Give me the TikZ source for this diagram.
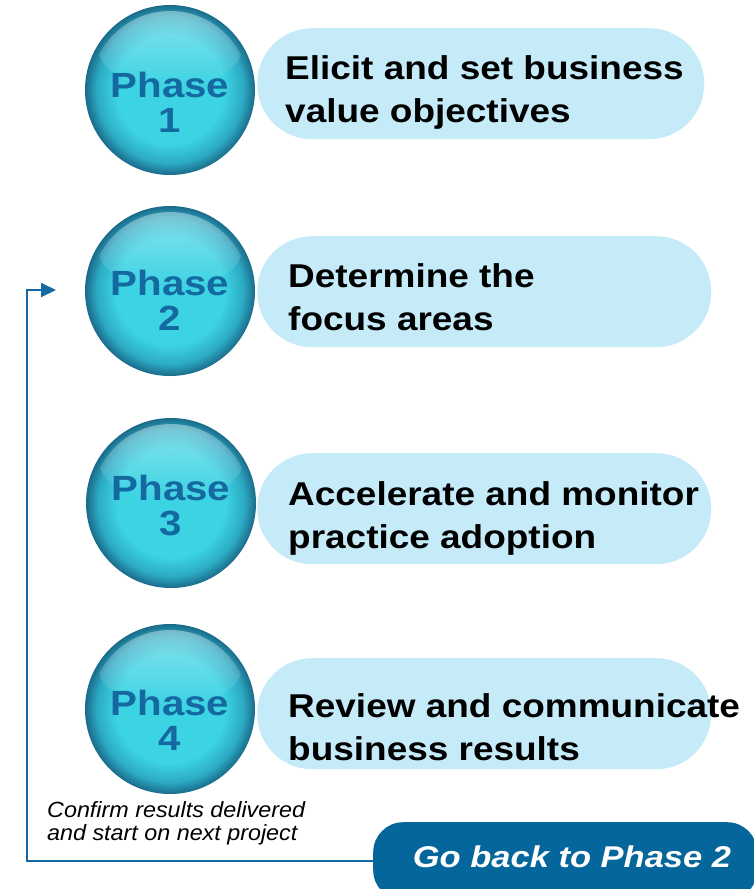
\documentclass[tikz,border=0pt]{standalone}
\usepackage{fontspec}
\setmainfont{Liberation Sans}
\newfontfamily\goalfont[FakeStretch=1.12]{Liberation Sans}
\newfontfamily\phasefont[FakeStretch=1.15]{Liberation Sans}
\newfontfamily\notefont[FakeStretch=1.06]{Liberation Sans}
\usetikzlibrary{fadings,arrows.meta}

\definecolor{ballin}{HTML}{3CD3E3}
\definecolor{ballmid}{HTML}{2CABC4}
\definecolor{ballrim}{HTML}{1A6B8A}
\definecolor{phaseblue}{HTML}{1369A0}
\definecolor{goalfill}{HTML}{C6EBF8}
\definecolor{backblue}{HTML}{04669A}
\definecolor{loopblue}{HTML}{1569A3}

\pgfdeclareradialshading{phaseball}{\pgfpointorigin}{color(0bp)=(ballin); color(16bp)=(ballin); color(21.5bp)=(ballmid); color(25bp)=(ballrim); color(50bp)=(ballrim)}

\tikzset{
    ball/.style={circle, minimum size=170pt, inner sep=0pt, shading=phaseball},
    phasetext/.style={font=\phasefont\fontsize{35}{35}\selectfont\bfseries, text=phaseblue, align=center, inner sep=0pt, anchor=base},
    goal/.style={rectangle, rounded corners=55pt, fill=goalfill, minimum height=111pt, inner sep=0pt, anchor=north west},
    goaltext/.style={font=\goalfont\fontsize{33}{43}\selectfont\bfseries, align=left, inner sep=0pt, anchor=base west},
    note/.style={font=\notefont\fontsize{22}{23}\selectfont\itshape, align=left, inner sep=0pt, anchor=base west},
    backbox/.style={rectangle, rounded corners=30pt, fill=backblue, minimum width=384pt, minimum height=78pt, inner sep=0pt, anchor=north west},
    loop/.style={draw=loopblue, line width=2pt}
}

% ball with glossy top
\newcommand{\PhaseBall}[3]{
    \node[ball] (#1) at (#2,#3) {};
    \begin{scope}
        \clip (#1.center) circle (79pt);
        \fill[white, fill opacity=.4, path fading=south] ([yshift=42pt]#1.center) ellipse (72pt and 40pt);
    \end{scope}
}

\begin{document}
\begin{tikzpicture}[x=1pt,y=-1pt]
    \useasboundingbox (0,0) rectangle (754,889);

    \node[goal, minimum width=447pt] (goal1) at (257,28) {};
    \node[goal, minimum width=454pt] (goal2) at (257,236) {};
    \node[goal, minimum width=454pt] (goal3) at (257,453) {};
    \node[goal, minimum width=454pt] (goal4) at (257,658) {};

    \PhaseBall{ph1}{170}{90}
    \PhaseBall{ph2}{170}{291}
    \PhaseBall{ph3}{171}{503}
    \PhaseBall{ph4}{170}{709}

    \node[phasetext] (lbl1) at (170,132) {Phase\\1};
    \node[phasetext] (lbl2) at (170,330) {Phase\\2};
    \node[phasetext] (lbl3) at (171,535) {Phase\\3};
    \node[phasetext] (lbl4) at (170,750) {Phase\\4};

    \node[goaltext] (txt1) at (285,122) {Elicit and set business\\value objectives};
    \node[goaltext] (txt2) at (288,330) {Determine the\\focus areas};
    \node[goaltext] (txt3) at (288,548) {Accelerate and monitor\\practice adoption};
    \node[goaltext] (txt4) at (288,760) {Review and communicate\\business results};

    \node[note] (confirm) at (47,840) {Confirm results delivered\\and start on next project};

    \node[backbox] (back) at (373,822) {};
    \node[font=\phasefont\fontsize{30}{30}\selectfont\bfseries\itshape, text=white, anchor=base] (backtxt) at (572,867) {Go back to Phase 2};

    \coordinate (loopin) at (56,290);
    \draw[loop, -{Triangle[length=15pt,width=14pt]}] (back.west) -| (27,290) -- (loopin);

\end{tikzpicture}
\end{document}
